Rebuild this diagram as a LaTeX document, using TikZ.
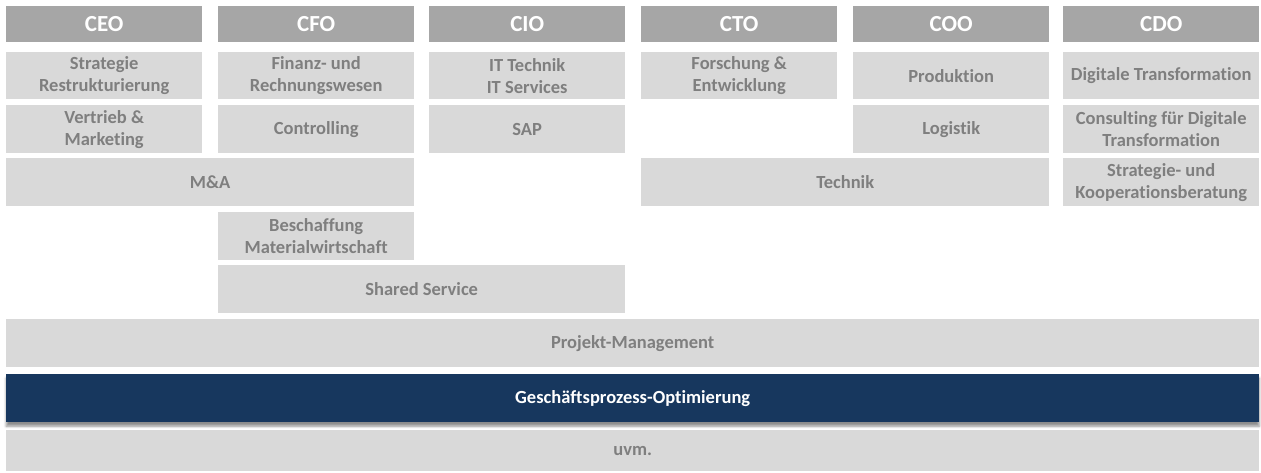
\documentclass[tikz,border=0pt]{standalone}
\usepackage{fontspec}
\setmainfont{Carlito}[Ligatures=NoCommon]
\usetikzlibrary{shadows.blur}
\definecolor{headgray}{HTML}{A6A6A6}
\definecolor{boxgray}{HTML}{D9D9D9}
\definecolor{txtgray}{HTML}{7F7F7F}
\definecolor{navy}{HTML}{17375E}

\begin{document}
\begin{tikzpicture}[x=1pt,y=-1pt]
\tikzstyle{head} = [rectangle, fill=headgray, text=white, anchor=north west,
inner sep=0pt, minimum width=196pt, minimum height=36pt,
font=\bfseries\fontsize{23}{27}\selectfont]

\tikzstyle{block} = [rectangle, fill=boxgray, text=txtgray, anchor=north west,
inner sep=0pt, minimum width=196pt, minimum height=48pt, align=center,
font=\bfseries\fontsize{18.5}{22}\selectfont]
\tikzstyle{wide} = [block, minimum width=408pt]
\tikzstyle{bar} = [block, minimum width=1253pt]
\tikzstyle{hilite} = [bar, fill=navy, text=white,
blur shadow={shadow xshift=0pt, shadow yshift=-4pt, shadow blur radius=2.5pt, shadow opacity=45}]

\useasboundingbox (0,0) rectangle (1261,473);

% headers
\node [head] (ceo) at (6,6) {CEO};
\node [head] (cfo) at (218,6) {CFO};
\node [head] (cio) at (429,6) {CIO};
\node [head] (cto) at (641,6) {CTO};
\node [head] (coo) at (853,6) {COO};
\node [head] (cdo) at (1063,6) {CDO};

% row 1
\node [block, minimum height=47pt] (strategie) at (6,52) {Strategie\\Restrukturierung};
\node [block, minimum height=47pt] (finanz) at (218,52) {Finanz- und\\Rechnungswesen};
\node [block, minimum height=47pt] (ittechnik) at (429,52) {IT Technik\\IT Services};
\node [block, minimum height=47pt] (forschung) at (641,52) {Forschung \&\\Entwicklung};
\node [block, minimum height=47pt] (produktion) at (853,52) {Produktion};
\node [block, minimum height=47pt] (digital) at (1063,52) {Digitale Transformation};

% row 2
\node [block] (vertrieb) at (6,105) {Vertrieb \&\\Marketing};
\node [block] (controlling) at (218,105) {Controlling};
\node [block] (sap) at (429,105) {SAP};
\node [block] (logistik) at (853,105) {Logistik};
\node [block] (consulting) at (1063,105) {Consulting für Digitale\\Transformation};

% row 3
\node [wide] (ma) at (6,158) {M\&A};
\node [wide] (technik) at (641,158) {Technik};
\node [block] (kooperation) at (1063,158) {Strategie- und\\Kooperationsberatung};

% row 4 and 5
\node [block] (beschaffung) at (218,212) {Beschaffung\\Materialwirtschaft};
\node [wide, minimum width=407pt] (shared) at (218,265) {Shared Service};

% bars
\node [bar] (projekt) at (6,319) {Projekt-Management};
\node [hilite] (gpo) at (6,374) {Geschäftsprozess-Optimierung};
\node [bar, minimum height=41pt] (uvm) at (6,430) {uvm.};
\end{tikzpicture}
\end{document}
